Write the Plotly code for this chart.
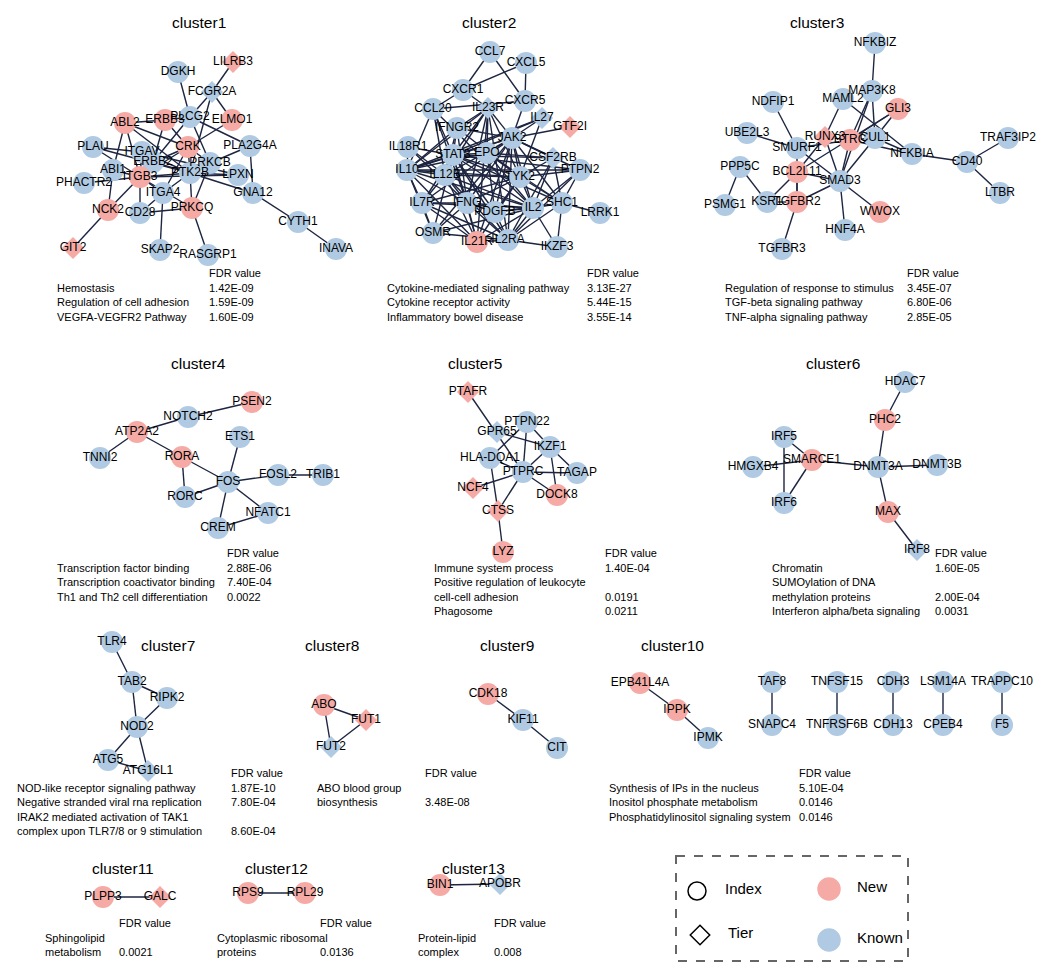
# _*_ coding: utf-8 _*_

"""
gene interaction clusters with enrichment tables
"""

import plotly.graph_objects as go

PINK = "#F6AAA5"
BLUE = "#AFCAE2"
EDGE = "#1d2540"
FONT = "Liberation Sans, Arial, sans-serif"

# nodes: (gene, x, y, status N=new / K=known, shape o=index / d=tier) ===============================================================
C1_NODES = [
    ("LILRB3", 233, 62, "N", "d"), ("DGKH", 178, 72, "K", "o"), ("FCGR2A", 212, 92, "K", "d"),
    ("PLCG2", 190, 117, "K", "o"), ("ERBB3", 165, 120, "N", "o"), ("ELMO1", 232, 120, "N", "o"),
    ("ABL2", 125, 123, "N", "o"), ("CRK", 188, 147, "N", "o"), ("PLA2G4A", 250, 146, "K", "o"),
    ("PLAU", 93, 147, "K", "o"), ("ITGAV", 142, 152, "K", "o"), ("ERBB2", 153, 162, "K", "o"),
    ("PRKCB", 210, 163, "K", "o"), ("ABI1", 113, 170, "K", "o"), ("PTK2B", 190, 173, "K", "o"),
    ("LPXN", 238, 175, "K", "o"), ("ITGB3", 140, 177, "N", "o"), ("PHACTR2", 84, 183, "K", "o"),
    ("ITGA4", 163, 193, "K", "o"), ("GNA12", 253, 193, "K", "o"), ("NCK2", 108, 210, "N", "o"),
    ("CD28", 140, 213, "K", "o"), ("PRKCQ", 192, 208, "N", "o"), ("CYTH1", 298, 222, "K", "o"),
    ("GIT2", 73, 248, "N", "d"), ("SKAP2", 160, 250, "K", "o"), ("RASGRP1", 208, 255, "K", "o"),
    ("INAVA", 336, 249, "K", "o"),
]
C1_EDGES = [
    ("LILRB3", "FCGR2A"), ("DGKH", "PLCG2"), ("FCGR2A", "PLCG2"), ("FCGR2A", "ELMO1"), ("FCGR2A", "PTK2B"),
    ("ABL2", "ERBB3"), ("ABL2", "CRK"), ("ABL2", "ITGB3"), ("ABL2", "ABI1"), ("ABL2", "PTK2B"),
    ("ERBB3", "PLCG2"), ("ERBB3", "ERBB2"), ("ERBB3", "CRK"), ("PLCG2", "ERBB2"), ("PLCG2", "PRKCB"),
    ("PLCG2", "PLA2G4A"), ("ELMO1", "CRK"), ("CRK", "ITGB3"), ("CRK", "ERBB2"), ("CRK", "PTK2B"),
    ("CRK", "PRKCB"), ("CRK", "ITGA4"), ("PLAU", "ITGAV"), ("PLAU", "PTK2B"), ("PLAU", "ITGB3"),
    ("ITGAV", "ITGB3"), ("ITGAV", "PTK2B"), ("ITGAV", "LPXN"), ("ERBB2", "ITGB3"), ("ERBB2", "PTK2B"),
    ("PRKCB", "PLA2G4A"), ("PRKCB", "PRKCQ"), ("PLA2G4A", "GNA12"), ("ABI1", "ITGB3"), ("ABI1", "NCK2"),
    ("PTK2B", "LPXN"), ("PTK2B", "GNA12"), ("PTK2B", "ITGA4"), ("PTK2B", "PRKCQ"), ("PTK2B", "ITGB3"),
    ("ITGB3", "PHACTR2"), ("ITGB3", "CD28"), ("ITGB3", "ITGA4"), ("ITGB3", "NCK2"), ("ITGB3", "PRKCQ"),
    ("ITGB3", "LPXN"), ("ITGA4", "SKAP2"), ("ITGA4", "CD28"), ("NCK2", "GIT2"), ("CD28", "PRKCQ"),
    ("PRKCQ", "RASGRP1"), ("GNA12", "CYTH1"), ("CYTH1", "INAVA"),
]

C2_NODES = [
    ("CCL7", 490, 52, "K", "o"), ("CXCL5", 526, 63, "K", "o"), ("CXCR1", 463, 90, "K", "o"),
    ("CXCR5", 525, 101, "K", "o"), ("CCL20", 433, 109, "K", "o"), ("IL23R", 488, 108, "K", "d"),
    ("IL27", 542, 118, "K", "d"), ("GTF2I", 570, 127, "N", "d"), ("IFNGR2", 457, 128, "K", "o"),
    ("JAK2", 512, 138, "K", "o"), ("IL18R1", 408, 147, "K", "o"), ("STAT3", 453, 155, "K", "o"),
    ("EPO", 487, 153, "K", "o"), ("CSF2RB", 553, 158, "K", "d"), ("IL10", 407, 170, "K", "o"),
    ("PTPN2", 580, 170, "K", "o"), ("IL12B", 445, 175, "K", "o"), ("TYK2", 520, 177, "K", "o"),
    ("IL7R", 422, 203, "K", "o"), ("IFNG", 467, 203, "K", "o"), ("PDGFB", 495, 212, "K", "o"),
    ("IL2", 533, 208, "K", "o"), ("SHC1", 562, 203, "K", "o"), ("LRRK1", 600, 213, "K", "o"),
    ("OSMR", 433, 233, "K", "o"), ("IL21R", 477, 242, "N", "o"), ("IL2RA", 508, 240, "K", "o"),
    ("IKZF3", 557, 247, "K", "o"),
]
C2_EDGES = [
    ("CCL7", "CXCR1"), ("CCL7", "CXCR5"), ("CXCL5", "CXCR1"), ("CXCL5", "CXCR5"), ("CXCR1", "CCL20"),
    ("CXCR1", "IL23R"), ("CCL20", "CXCR5"), ("CXCR5", "JAK2"), ("CCL20", "IL10"), ("CCL20", "IL12B"),
    ("CCL20", "STAT3"), ("CCL20", "IFNG"), ("CCL20", "IL2"),
    ("IL23R", "IFNGR2"), ("IL23R", "JAK2"), ("IL23R", "STAT3"), ("IL23R", "EPO"), ("IL23R", "IL12B"),
    ("IL23R", "TYK2"), ("IL23R", "IFNG"), ("IL23R", "IL10"), ("IL23R", "IL2RA"), ("IL23R", "IL21R"),
    ("IL27", "JAK2"), ("IL27", "STAT3"), ("IL27", "TYK2"), ("IL27", "IL10"), ("GTF2I", "JAK2"),
    ("IFNGR2", "JAK2"), ("IFNGR2", "STAT3"), ("IFNGR2", "IFNG"), ("IFNGR2", "TYK2"), ("IFNGR2", "IL10"),
    ("IFNGR2", "IL12B"),
    ("JAK2", "STAT3"), ("JAK2", "EPO"), ("JAK2", "CSF2RB"), ("JAK2", "TYK2"), ("JAK2", "IL10"),
    ("JAK2", "IL12B"), ("JAK2", "IFNG"), ("JAK2", "PDGFB"), ("JAK2", "IL2"), ("JAK2", "SHC1"),
    ("JAK2", "PTPN2"), ("JAK2", "IL7R"), ("JAK2", "OSMR"), ("JAK2", "IL21R"), ("JAK2", "IL2RA"),
    ("IL18R1", "IL10"), ("IL18R1", "STAT3"), ("IL18R1", "IFNG"), ("IL18R1", "IL12B"),
    ("STAT3", "EPO"), ("STAT3", "IL10"), ("STAT3", "IL12B"), ("STAT3", "TYK2"), ("STAT3", "IFNG"),
    ("STAT3", "IL2"), ("STAT3", "CSF2RB"), ("STAT3", "PTPN2"), ("STAT3", "OSMR"), ("STAT3", "IL21R"),
    ("STAT3", "IL7R"), ("STAT3", "PDGFB"), ("STAT3", "SHC1"), ("STAT3", "IL2RA"),
    ("EPO", "CSF2RB"), ("EPO", "TYK2"), ("EPO", "IL2"), ("EPO", "PDGFB"), ("EPO", "SHC1"), ("EPO", "IL10"),
    ("CSF2RB", "TYK2"), ("CSF2RB", "IL2"), ("CSF2RB", "SHC1"), ("CSF2RB", "IL2RA"),
    ("IL10", "IL12B"), ("IL10", "TYK2"), ("IL10", "IFNG"), ("IL10", "IL7R"), ("IL10", "OSMR"),
    ("IL10", "IL2"), ("IL10", "IL21R"), ("IL10", "PTPN2"),
    ("PTPN2", "TYK2"), ("PTPN2", "SHC1"), ("PTPN2", "IL2"), ("PTPN2", "IL2RA"),
    ("IL12B", "TYK2"), ("IL12B", "IFNG"), ("IL12B", "IL2"), ("IL12B", "IL7R"), ("IL12B", "IL21R"),
    ("IL12B", "IL2RA"), ("TYK2", "IFNG"), ("TYK2", "IL2"), ("TYK2", "PDGFB"), ("TYK2", "IL7R"),
    ("TYK2", "SHC1"), ("TYK2", "IL21R"), ("IL7R", "IFNG"), ("IL7R", "IL2"), ("IL7R", "OSMR"),
    ("IL7R", "IL21R"), ("IL7R", "IL2RA"), ("IFNG", "IL2"), ("IFNG", "PDGFB"), ("IFNG", "OSMR"),
    ("IFNG", "IL21R"), ("IFNG", "IL2RA"), ("PDGFB", "IL2"), ("PDGFB", "SHC1"), ("PDGFB", "IL2RA"),
    ("IL2", "SHC1"), ("IL2", "IL2RA"), ("IL2", "IL21R"), ("IL2", "IKZF3"), ("IL2", "OSMR"),
    ("SHC1", "LRRK1"), ("SHC1", "IKZF3"), ("SHC1", "IL2RA"), ("OSMR", "IL2RA"), ("IL21R", "IL2RA"),
    ("IL2RA", "IKZF3"),
]

C3_NODES = [
    ("NFKBIZ", 875, 43, "K", "o"), ("MAP3K8", 872, 91, "K", "o"), ("MAML2", 843, 99, "K", "o"),
    ("NDFIP1", 773, 102, "K", "o"), ("GLI3", 898, 109, "N", "o"), ("UBE2L3", 747, 133, "K", "o"),
    ("RUNX3", 825, 137, "N", "d"), ("BTRC", 850, 140, "N", "o"), ("CUL1", 875, 138, "K", "o"),
    ("TRAF3IP2", 1008, 138, "K", "o"), ("SMURF1", 797, 148, "K", "o"), ("NFKBIA", 912, 154, "K", "o"),
    ("CD40", 967, 162, "K", "o"), ("PPP5C", 740, 167, "K", "o"), ("BCL2L11", 797, 172, "N", "o"),
    ("SMAD3", 840, 181, "K", "o"), ("LTBR", 1000, 193, "K", "o"), ("PSMG1", 725, 205, "K", "o"),
    ("KSR1", 767, 202, "K", "o"), ("TGFBR2", 797, 202, "N", "o"), ("WWOX", 880, 212, "N", "o"),
    ("HNF4A", 845, 230, "K", "o"), ("TGFBR3", 782, 249, "K", "o"),
]
C3_EDGES = [
    ("NFKBIZ", "MAP3K8"), ("MAP3K8", "CUL1"), ("MAP3K8", "BTRC"), ("MAP3K8", "SMAD3"), ("MAML2", "RUNX3"),
    ("MAML2", "NFKBIA"), ("NDFIP1", "SMURF1"), ("GLI3", "CUL1"), ("GLI3", "BTRC"), ("GLI3", "BCL2L11"),
    ("UBE2L3", "SMURF1"), ("SMURF1", "SMAD3"), ("SMURF1", "BTRC"), ("SMURF1", "TGFBR2"), ("RUNX3", "SMAD3"),
    ("RUNX3", "BCL2L11"), ("BTRC", "CUL1"), ("BTRC", "NFKBIA"), ("BTRC", "SMAD3"), ("CUL1", "NFKBIA"),
    ("CUL1", "SMAD3"), ("NFKBIA", "CD40"), ("CD40", "TRAF3IP2"), ("CD40", "LTBR"), ("PPP5C", "PSMG1"),
    ("PPP5C", "KSR1"), ("KSR1", "BCL2L11"), ("KSR1", "TGFBR2"), ("BCL2L11", "TGFBR2"), ("BCL2L11", "SMAD3"),
    ("TGFBR2", "SMAD3"), ("TGFBR2", "TGFBR3"), ("SMAD3", "WWOX"), ("SMAD3", "HNF4A"),
]

C4_NODES = [
    ("PSEN2", 252, 402, "N", "o"), ("NOTCH2", 188, 417, "K", "o"), ("ATP2A2", 137, 432, "N", "o"),
    ("ETS1", 240, 437, "K", "o"), ("TNNI2", 100, 458, "K", "o"), ("RORA", 182, 457, "N", "o"),
    ("FOS", 228, 482, "K", "o"), ("FOSL2", 278, 475, "K", "o"), ("TRIB1", 323, 475, "K", "o"),
    ("RORC", 185, 497, "K", "o"), ("NFATC1", 268, 513, "K", "o"), ("CREM", 218, 528, "K", "o"),
]
C4_EDGES = [
    ("PSEN2", "NOTCH2"), ("NOTCH2", "ATP2A2"), ("ATP2A2", "TNNI2"), ("ATP2A2", "RORA"), ("RORA", "FOS"),
    ("RORA", "RORC"), ("RORC", "FOS"), ("ETS1", "FOS"), ("FOS", "FOSL2"), ("FOSL2", "TRIB1"),
    ("FOS", "NFATC1"), ("FOS", "CREM"), ("CREM", "NFATC1"),
]

C5_NODES = [
    ("PTAFR", 468, 392, "N", "d"), ("PTPN22", 527, 422, "K", "o"), ("GPR65", 497, 432, "K", "d"),
    ("IKZF1", 550, 447, "K", "o"), ("HLA-DQA1", 490, 458, "K", "o"), ("PTPRC", 523, 472, "K", "o"),
    ("TAGAP", 577, 473, "K", "o"), ("NCF4", 473, 488, "N", "d"), ("DOCK8", 557, 495, "N", "o"),
    ("CTSS", 498, 511, "N", "d"), ("LYZ", 503, 552, "N", "o"),
]
C5_EDGES = [
    ("PTAFR", "PTPRC"), ("GPR65", "IKZF1"), ("PTPN22", "HLA-DQA1"), ("PTPN22", "PTPRC"),
    ("PTPN22", "IKZF1"), ("IKZF1", "PTPRC"), ("IKZF1", "TAGAP"), ("IKZF1", "DOCK8"), ("HLA-DQA1", "PTPRC"),
    ("HLA-DQA1", "CTSS"), ("PTPRC", "TAGAP"), ("PTPRC", "DOCK8"), ("PTPRC", "CTSS"), ("PTPRC", "NCF4"),
    ("CTSS", "LYZ"),
]

C6_NODES = [
    ("HDAC7", 905, 382, "K", "o"), ("PHC2", 885, 420, "N", "o"), ("IRF5", 784, 437, "K", "o"),
    ("SMARCE1", 812, 460, "N", "o"), ("HMGXB4", 753, 467, "K", "o"), ("DNMT3A", 878, 467, "K", "o"),
    ("DNMT3B", 937, 465, "K", "o"), ("IRF6", 784, 503, "K", "o"), ("MAX", 888, 512, "N", "o"),
    ("IRF8", 917, 550, "K", "d"),
]
C6_EDGES = [
    ("HDAC7", "PHC2"), ("PHC2", "DNMT3A"), ("IRF5", "SMARCE1"), ("IRF5", "IRF6"), ("IRF6", "SMARCE1"),
    ("HMGXB4", "SMARCE1"), ("SMARCE1", "DNMT3A"), ("DNMT3A", "DNMT3B"), ("DNMT3A", "MAX"), ("MAX", "IRF8"),
]

C7_NODES = [
    ("TLR4", 112, 642, "K", "o"), ("TAB2", 132, 682, "K", "o"), ("RIPK2", 167, 698, "K", "o"),
    ("NOD2", 137, 727, "K", "o"), ("ATG5", 108, 760, "K", "o"), ("ATG16L1", 148, 771, "K", "d"),
]
C7_EDGES = [
    ("TLR4", "TAB2"), ("TAB2", "RIPK2"), ("TAB2", "NOD2"), ("RIPK2", "NOD2"), ("NOD2", "ATG5"),
    ("NOD2", "ATG16L1"), ("ATG5", "ATG16L1"),
]

C8_NODES = [("ABO", 324, 705, "N", "o"), ("FUT1", 366, 720, "N", "d"), ("FUT2", 331, 747, "K", "d")]
C8_EDGES = [("ABO", "FUT1"), ("ABO", "FUT2"), ("FUT1", "FUT2")]

C9_NODES = [("CDK18", 488, 694, "N", "o"), ("KIF11", 523, 720, "K", "o"), ("CIT", 557, 748, "K", "o")]
C9_EDGES = [("CDK18", "KIF11"), ("KIF11", "CIT")]

C10_NODES = [
    ("EPB41L4A", 640, 683, "N", "o"), ("IPPK", 677, 710, "N", "o"), ("IPMK", 708, 738, "K", "o"),
    ("TAF8", 772, 682, "K", "o"), ("SNAPC4", 772, 725, "K", "o"), ("TNFSF15", 837, 682, "K", "o"),
    ("TNFRSF6B", 837, 725, "K", "o"), ("CDH3", 893, 682, "K", "o"), ("CDH13", 893, 725, "K", "o"),
    ("LSM14A", 943, 682, "K", "o"), ("CPEB4", 943, 725, "K", "o"), ("TRAPPC10", 1002, 682, "K", "o"),
    ("F5", 1002, 725, "K", "o"),
]
C10_EDGES = [
    ("EPB41L4A", "IPPK"), ("IPPK", "IPMK"), ("TAF8", "SNAPC4"), ("TNFSF15", "TNFRSF6B"),
    ("CDH3", "CDH13"), ("LSM14A", "CPEB4"), ("TRAPPC10", "F5"),
]

C11_NODES = [("PLPP3", 103, 897, "N", "o"), ("GALC", 160, 897, "N", "d")]
C11_EDGES = [("PLPP3", "GALC")]
C12_NODES = [("RPS9", 248, 893, "N", "o"), ("RPL29", 305, 893, "N", "o")]
C12_EDGES = [("RPS9", "RPL29")]
C13_NODES = [("BIN1", 440, 885, "N", "o"), ("APOBR", 500, 884, "K", "d")]
C13_EDGES = [("BIN1", "APOBR")]

# enrichment terms and FDR values ===================================================================================================
C1_TERMS = ["Hemostasis", "Regulation of cell adhesion", "VEGFA-VEGFR2 Pathway"]
C1_FDR = ["1.42E-09", "1.59E-09", "1.60E-09"]
C2_TERMS = ["Cytokine-mediated signaling pathway", "Cytokine receptor activity", "Inflammatory bowel disease"]
C2_FDR = ["3.13E-27", "5.44E-15", "3.55E-14"]
C3_TERMS = ["Regulation of response to stimulus", "TGF-beta signaling pathway", "TNF-alpha signaling pathway"]
C3_FDR = ["3.45E-07", "6.80E-06", "2.85E-05"]
C4_TERMS = ["Transcription factor binding", "Transcription coactivator binding", "Th1 and Th2 cell differentiation"]
C4_FDR = ["2.88E-06", "7.40E-04", "0.0022"]
C5_TERMS = ["Immune system process", "Positive regulation of leukocyte", "cell-cell adhesion", "Phagosome"]
C5_FDR = ["1.40E-04", "", "0.0191", "0.0211"]
C6_TERMS = ["Chromatin", "SUMOylation of DNA", "methylation proteins", "Interferon alpha/beta signaling"]
C6_FDR = ["1.60E-05", "", "2.00E-04", "0.0031"]
C7_TERMS = ["NOD-like receptor signaling pathway", "Negative stranded viral rna replication",
            "IRAK2 mediated activation of TAK1", "complex upon TLR7/8 or 9 stimulation"]
C7_FDR = ["1.87E-10", "7.80E-04", "", "8.60E-04"]
C8_TERMS = ["ABO blood group", "biosynthesis"]
C8_FDR = ["", "3.48E-08"]
C10_TERMS = ["Synthesis of IPs in the nucleus", "Inositol phosphate metabolism", "Phosphatidylinositol signaling system"]
C10_FDR = ["5.10E-04", "0.0146", "0.0146"]
C11_TERMS = ["Sphingolipid", "metabolism"]
C11_FDR = ["", "0.0021"]
C12_TERMS = ["Cytoplasmic ribosomal", "proteins"]
C12_FDR = ["", "0.0136"]
C13_TERMS = ["Protein-lipid", "complex"]
C13_FDR = ["", "0.008"]

# layout of panels: title position, table (term x, value x, header y)
TITLES = [("cluster1", 199, 22), ("cluster2", 489, 22), ("cluster3", 817, 22), ("cluster4", 198, 363),
          ("cluster5", 475, 363), ("cluster6", 833, 363), ("cluster7", 168, 645), ("cluster8", 332, 645),
          ("cluster9", 507, 645), ("cluster10", 672, 645), ("cluster11", 123, 868), ("cluster12", 276, 868),
          ("cluster13", 473, 868)]
TABLES = [
    (C1_TERMS, C1_FDR, 55, 207, 273), (C2_TERMS, C2_FDR, 385, 585, 273), (C3_TERMS, C3_FDR, 723, 905, 273),
    (C4_TERMS, C4_FDR, 55, 225, 553), (C5_TERMS, C5_FDR, 432, 603, 553), (C6_TERMS, C6_FDR, 770, 933, 553),
    (C7_TERMS, C7_FDR, 15, 229, 773), (C8_TERMS, C8_FDR, 315, 423, 773), (C10_TERMS, C10_FDR, 607, 797, 773),
    (C11_TERMS, C11_FDR, 43, 117, 923), (C12_TERMS, C12_FDR, 215, 318, 923), (C13_TERMS, C13_FDR, 416, 492, 923),
]
ROW_STEP = 14.6

ALL = [(C1_NODES, C1_EDGES), (C2_NODES, C2_EDGES), (C3_NODES, C3_EDGES), (C4_NODES, C4_EDGES),
       (C5_NODES, C5_EDGES), (C6_NODES, C6_EDGES), (C7_NODES, C7_EDGES), (C8_NODES, C8_EDGES),
       (C9_NODES, C9_EDGES), (C10_NODES, C10_EDGES), (C11_NODES, C11_EDGES), (C12_NODES, C12_EDGES),
       (C13_NODES, C13_EDGES)]

# the page body has an 8px margin, so the plot starts 8px in and the axis ranges start at 8
PAGE_PAD = 8
W, H = 1050, 978

fig = go.Figure()

# edges
ex, ey = [], []
for nodes, edges in ALL:
    pos = {n[0]: (n[1], n[2]) for n in nodes}
    for a, b in edges:
        ex += [pos[a][0], pos[b][0], None]
        ey += [pos[a][1], pos[b][1], None]
fig.add_trace(go.Scatter(x=ex, y=ey, mode="lines", line=dict(color=EDGE, width=1.4), hoverinfo="skip"))

# nodes
every = [n for nodes, _ in ALL for n in nodes]
for status, color in [("K", BLUE), ("N", PINK)]:
    for shape, symbol, size in [("o", "circle", 22), ("d", "diamond", 17)]:
        pts = [n for n in every if n[3] == status and n[4] == shape]
        fig.add_trace(go.Scatter(
            x=[p[1] for p in pts], y=[p[2] for p in pts], mode="markers",
            marker=dict(color=color, size=size, symbol=symbol, line=dict(width=0)),
            text=[p[0] for p in pts], hoverinfo="text",
        ))

# labels on top
fig.add_trace(go.Scatter(
    x=[n[1] for n in every], y=[n[2] for n in every], mode="text", text=[n[0] for n in every],
    textposition="middle center", textfont=dict(family=FONT, size=12, color="black"), hoverinfo="skip",
))

# titles
for t, x, y in TITLES:
    fig.add_annotation(x=x, y=y, text=t, showarrow=False, xanchor="center", yanchor="middle",
                       font=dict(family=FONT, size=15.5, color="black"))

# tables
for terms, fdr, xt, xv, yh in TABLES:
    fig.add_annotation(x=xv, y=yh, text="FDR value", showarrow=False, xanchor="left", yanchor="middle",
                       font=dict(family=FONT, size=11, color="black"))
    for i, (term, val) in enumerate(zip(terms, fdr)):
        y = yh + ROW_STEP * (i + 1)
        fig.add_annotation(x=xt, y=y, text=term, showarrow=False, xanchor="left", yanchor="middle",
                           font=dict(family=FONT, size=11, color="black"))
        if val:
            fig.add_annotation(x=xv, y=y, text=val, showarrow=False, xanchor="left", yanchor="middle",
                               font=dict(family=FONT, size=11, color="black"))

# legend box
fig.add_shape(type="rect", x0=676, y0=856, x1=908, y1=961, line=dict(color="#666666", width=2, dash="dash"))
LEGEND = [("Index", 697, 891, "circle-open", "black", 18), ("Tier", 700, 935, "diamond-open", "black", 15),
          ("New", 829, 889, "circle", PINK, 22), ("Known", 829, 940, "circle", BLUE, 22)]
for label, x, y, symbol, color, size in LEGEND:
    fig.add_trace(go.Scatter(x=[x], y=[y], mode="markers", hoverinfo="skip",
                             marker=dict(symbol=symbol, color=color, size=size, line=dict(width=1.5, color=color))))
    fig.add_annotation(x=x + 26, y=y - 3, text=label, showarrow=False, xanchor="left", yanchor="middle",
                       font=dict(family=FONT, size=15, color="black"))

fig.update_layout(
    width=W - PAGE_PAD, height=H - PAGE_PAD, margin=dict(l=0, r=0, t=0, b=0), showlegend=False,
    plot_bgcolor="white", paper_bgcolor="white",
    xaxis=dict(range=[PAGE_PAD, W], visible=False, fixedrange=True),
    yaxis=dict(range=[H, PAGE_PAD], visible=False, fixedrange=True),
)

fig.write_html("out.html")
